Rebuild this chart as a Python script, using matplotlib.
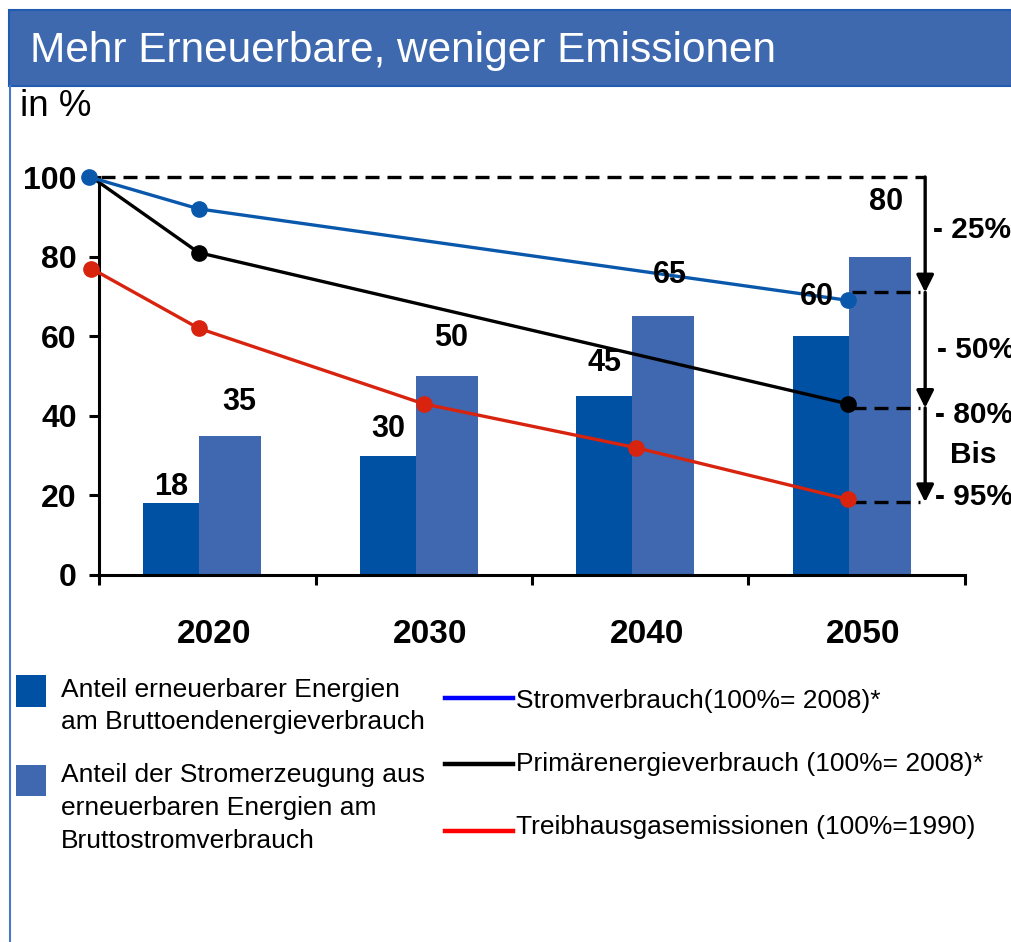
import matplotlib
matplotlib.use("Agg")
import matplotlib.pyplot as plt
from matplotlib.patches import Rectangle
from matplotlib.lines import Line2D

plt.rcParams['font.family'] = ['Liberation Sans', 'DejaVu Sans']

# ---------------- data ----------------
jahre = ['2020', '2030', '2040', '2050']
anteil_endenergie = [18, 30, 45, 60]      # dark bars
anteil_strom = [35, 50, 65, 80]           # light bars

# line series (start value, then selected years)
strom_werte = [100, 92, 69]               # start, 2020, 2050
primaer_werte = [100, 81, 43]             # start, 2020, 2050
thg_werte = [77, 62, 43, 32, 19]          # start, 2020, 2030, 2040, 2050

ziel_texte = ['- 25%', '- 50%', '- 80%', 'Bis', '- 95%']
ziel_niveaus = [71, 42, 18.3]             # dashed reference levels at 2050

legend_balken = ['Anteil erneuerbarer Energien\nam Bruttoendenergieverbrauch',
                 'Anteil der Stromerzeugung aus\nerneuerbaren Energien am\nBruttostromverbrauch']
legend_linien = ['Stromverbrauch(100%= 2008)*',
                 'Primärenergieverbrauch (100%= 2008)*',
                 'Treibhausgasemissionen (100%=1990)']

# ---------------- style ----------------
C_DARK = '#0050A4'
C_LIGHT = '#3F68B0'
C_BLUE = '#0A58AC'
C_RED = '#D8230F'
C_TITLE = '#3F69AF'

W, H = 1012, 942
fig = plt.figure(figsize=(W / 100, H / 100), dpi=100)

def fx(px):
    return px / W

def fy(py):
    return 1 - py / H

# title bar
fig.patches.append(Rectangle((fx(9), fy(86)), fx(1012) - fx(9), fy(10) - fy(86),
                             transform=fig.transFigure, facecolor=C_TITLE,
                             edgecolor='#1F5BB0', lw=1.5, zorder=0))
fig.text(fx(30), fy(51), 'Mehr Erneuerbare, weniger Emissionen', color='white',
         fontsize=30.5, va='center', ha='left')
fig.add_artist(Line2D([fx(10), fx(10)], [fy(86), 0], transform=fig.transFigure,
                      color='#4A78C8', lw=1.5))
fig.text(fx(20), fy(107), 'in %', fontsize=26.5, va='center', ha='left')

# axes
ax = fig.add_axes([fx(99), fy(575), fx(965) - fx(99), fy(177) - fy(575)])
ax.set_xlim(-0.5, 3.5)
ax.set_ylim(0, 100)
for s in ['top', 'right']:
    ax.spines[s].set_visible(False)
for s in ['left', 'bottom']:
    ax.spines[s].set_linewidth(2.2)

idx = list(range(len(jahre)))
ax.bar([i - 0.295 for i in idx], anteil_endenergie, width=0.258, align='edge',
       color=C_DARK, zorder=2)
ax.bar([i - 0.037 for i in idx], anteil_strom, width=0.287, align='edge',
       color=C_LIGHT, zorder=2)

# bar labels
lab_dark_dx = [0.0, 0.0, 0.0, -0.02]
lab_dark_dy = [4, 6.7, 8.3, 9.8]
lab_light_dx = [0.04, 0.02, 0.03, 0.03]
lab_light_dy = [8.4, 9.5, 10.4, 13.7]
for i in idx:
    ax.text(i - 0.166 + lab_dark_dx[i], anteil_endenergie[i] + lab_dark_dy[i],
            str(anteil_endenergie[i]), ha='center', va='center',
            fontsize=22, fontweight='bold', zorder=6)
    ax.text(i + 0.107 + lab_light_dx[i], anteil_strom[i] + lab_light_dy[i],
            str(anteil_strom[i]), ha='center', va='center',
            fontsize=22, fontweight='bold', zorder=6)

# lines
x_strom = [-0.545, -0.04, 2.96]
x_primaer = [-0.535, -0.04, 2.96]
x_thg = [-0.535, -0.04, 1.0, 1.98, 2.96]
ax.plot(x_primaer, primaer_werte, color='black', lw=2.4, zorder=4, clip_on=False)
ax.plot(x_primaer[1:], primaer_werte[1:], 'o', color='black', ms=11,
        zorder=5, clip_on=False)
ax.plot(x_strom, strom_werte, color=C_BLUE, lw=2.4, marker='o', ms=11,
        zorder=5, clip_on=False)
ax.plot(x_thg, thg_werte, color=C_RED, lw=2.4, marker='o', ms=11,
        zorder=5, clip_on=False)

# dashed reference lines
dash = dict(color='black', lw=2.4, dashes=(4.2, 2.4), zorder=3, clip_on=False)
x_pfeil = 3.316
ax.plot([-0.49, x_pfeil], [100, 100], **dash)
for lvl in ziel_niveaus:
    ax.plot([2.98, 3.29], [lvl, lvl], **dash)

# arrows
stufen = [100] + ziel_niveaus
for a, b in zip(stufen[:-1], stufen[1:]):
    ax.annotate('', xy=(x_pfeil, b), xytext=(x_pfeil, a),
                arrowprops=dict(arrowstyle='-|>', color='black', lw=2.4,
                                mutation_scale=26, shrinkA=0, shrinkB=0),
                annotation_clip=False, zorder=6)

# right texts
ziel_pos_x = [3.35, 3.37, 3.36, 3.43, 3.36]
ziel_pos_y = [86.7, 56.5, 40.2, 30.2, 19.6]
for t, xx, yy in zip(ziel_texte, ziel_pos_x, ziel_pos_y):
    ax.text(xx, yy, t, fontsize=21.5, fontweight='bold', ha='left', va='center',
            clip_on=False, zorder=6)

# ticks
ax.set_yticks([0, 20, 40, 60, 80, 100])
ax.set_yticklabels(['0', '20', '40', '60', '80', '100'], fontsize=23,
                   fontweight='bold')
ax.tick_params(axis='y', direction='out', length=7, width=2.2, pad=9)
ax.set_xticks([-0.5, 0.5, 1.5, 2.5, 3.5])
ax.set_xticklabels([])
ax.tick_params(axis='x', which='major', direction='out', length=7, width=2.2)
ax.set_xticks([i + 0.03 for i in idx], minor=True)
ax.set_xticklabels(jahre, minor=True, fontsize=24, fontweight='bold')
ax.tick_params(axis='x', which='minor', length=0, pad=32)

# legend (manual)
fig.patches.append(Rectangle((fx(16), fy(707)), fx(30), fy(675) - fy(707),
                             transform=fig.transFigure, facecolor=C_DARK,
                             edgecolor='none'))
fig.patches.append(Rectangle((fx(16), fy(796)), fx(30), fy(765) - fy(796),
                             transform=fig.transFigure, facecolor=C_LIGHT,
                             edgecolor='none'))
fig.text(fx(61), fy(706), legend_balken[0], fontsize=19, va='center', ha='left',
         linespacing=1.45)
fig.text(fx(61), fy(808), legend_balken[1], fontsize=19, va='center', ha='left',
         linespacing=1.45)

leg_farben = ['#0000FF', 'black', '#FF0000']
leg_y_line = [698, 764, 831]
leg_y_text = [701, 764, 827]
for lab, c, yl, yt in zip(legend_linien, leg_farben, leg_y_line, leg_y_text):
    fig.add_artist(Line2D([fx(445), fx(513)], [fy(yl), fy(yl)],
                          transform=fig.transFigure, color=c, lw=3.2))
    fig.text(fx(516), fy(yt), lab, fontsize=19, va='center', ha='left')

fig.savefig('out.png', dpi=100)
